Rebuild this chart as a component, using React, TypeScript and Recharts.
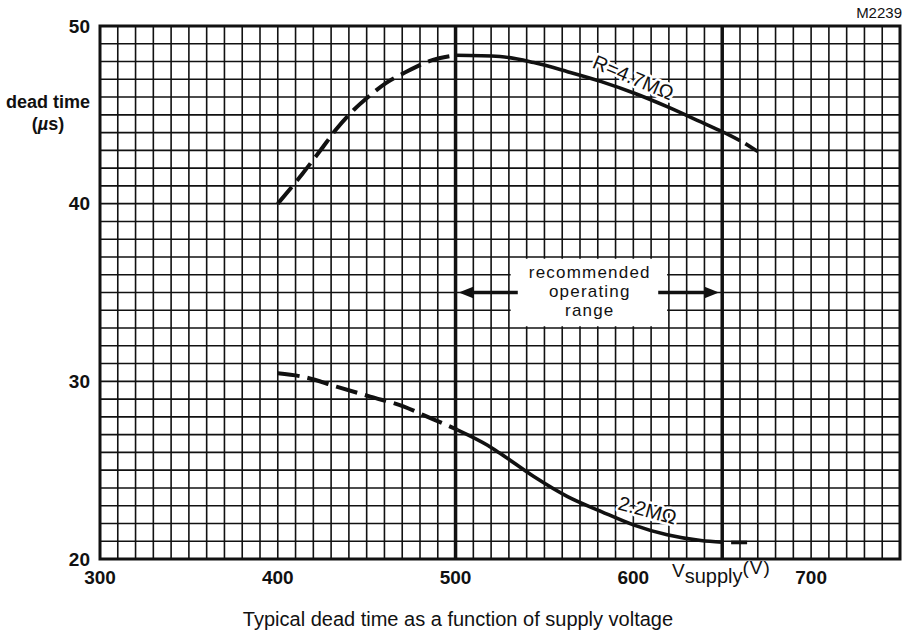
import React from 'react';
import {
  LineChart,
  Line,
  XAxis,
  YAxis,
  CartesianGrid,
  ReferenceLine,
  ReferenceArea,
  ReferenceDot,
} from 'recharts';

// grid: 10 V x 1 us squares
const gridX = Array.from({ length: 46 }, (_, i) => 300 + i * 10);
const gridY = Array.from({ length: 31 }, (_, i) => 20 + i);
const xLabels = [300, 400, 500, 600, 700];
const yLabels = [20, 30, 40, 50];

// R = 4.7 MOhm curve (V supply, dead time us)
const r47Dashed = [
  { x: 400, y: 40.0 },
  { x: 414, y: 41.7 },
  { x: 424, y: 43.0 },
  { x: 433, y: 44.2 },
  { x: 443, y: 45.3 },
  { x: 452, y: 46.1 },
  { x: 461, y: 46.8 },
  { x: 471, y: 47.35 },
  { x: 486, y: 48.05 },
  { x: 500, y: 48.35 },
];
const r47Solid = [
  { x: 500, y: 48.35 },
  { x: 525, y: 48.28 },
  { x: 544, y: 47.94 },
  { x: 563, y: 47.43 },
  { x: 582, y: 46.87 },
  { x: 601, y: 46.2 },
  { x: 619, y: 45.46 },
  { x: 638, y: 44.6 },
  { x: 650, y: 44.05 },
  { x: 660, y: 43.55 },
];
const r47Tail = [
  { x: 663, y: 43.38 },
  { x: 670, y: 42.93 },
];

// R = 2.2 MOhm curve
const r22Dashed = [
  { x: 400, y: 30.45 },
  { x: 414, y: 30.26 },
  { x: 433, y: 29.7 },
  { x: 452, y: 29.14 },
  { x: 471, y: 28.58 },
  { x: 482, y: 28.1 },
  { x: 497, y: 27.45 },
  { x: 501, y: 27.27 },
];
const r22Solid = [
  { x: 501, y: 27.27 },
  { x: 518, y: 26.4 },
  { x: 525, y: 25.95 },
  { x: 544, y: 24.64 },
  { x: 563, y: 23.51 },
  { x: 582, y: 22.67 },
  { x: 600, y: 21.92 },
  { x: 619, y: 21.36 },
  { x: 638, y: 21.04 },
  { x: 650, y: 20.95 },
];
const r22Tail = [
  { x: 655, y: 20.93 },
  { x: 664, y: 20.93 },
];

const rangeLimits = [500, 650];
const rangeLines = ['recommended', 'operating', 'range'];

const INK = '#111';
const FONT = '"Liberation Sans", Arial, Helvetica, sans-serif';

const YTick = (props: any) => {
  const { x, y, payload } = props;
  if (!yLabels.includes(payload.value)) return <g />;
  return (
    <text x={x} y={y} textAnchor="end" dominantBaseline="central" fontSize={19} fontWeight="bold" fill={INK} fontFamily={FONT}>
      {payload.value}
    </text>
  );
};

const XTick = (props: any) => {
  const { x, y, payload } = props;
  if (!xLabels.includes(payload.value)) return <g />;
  return (
    <text x={x} y={y + 18} textAnchor="middle" dominantBaseline="central" fontSize={19} fontWeight="bold" fill={INK} fontFamily={FONT}>
      {payload.value}
    </text>
  );
};

const Arrow = (p: any) => {
  const { x1, y1, x2, y2 } = p;
  const dir = x2 > x1 ? 1 : -1;
  const head = 15;
  return (
    <g>
      <line x1={x1} y1={y1} x2={x2 - dir * head} y2={y2} stroke={INK} strokeWidth={3.5} />
      <polygon points={`${x2},${y2} ${x2 - dir * head},${y2 - 6} ${x2 - dir * head},${y2 + 6}`} fill={INK} />
    </g>
  );
};

const curveLabel = (text: string, angle: number) => (p: any) => {
  const common = {
    x: p.cx,
    y: p.cy,
    transform: `rotate(${angle} ${p.cx} ${p.cy})`,
    textAnchor: 'middle' as const,
    dominantBaseline: 'central' as const,
    fontSize: 20,
    fontFamily: FONT,
  };
  return (
    <g>
      <text {...common} fill="#fff" stroke="#fff" strokeWidth={5} strokeLinejoin="round">
        {text}
      </text>
      <text {...common} fill={INK}>
        {text}
      </text>
    </g>
  );
};

const rangeText = (p: any) => (
  <g>
    {rangeLines.map((t, i) => (
      <text
        key={t}
        x={p.cx}
        y={p.cy + (i - 1) * 19}
        textAnchor="middle"
        dominantBaseline="central"
        fontSize={17}
        letterSpacing={1.2}
        fill={INK}
        fontFamily={FONT}
      >
        {t}
      </text>
    ))}
  </g>
);

const dash = '22 8';

const App: React.FC = () => {
  return (
    <div style={{ position: 'absolute', left: 0, top: 0, width: 911, height: 633, background: '#fff', fontFamily: FONT, color: INK }}>
      <LineChart width={911} height={633} margin={{ top: 26, right: 11, left: 0, bottom: 44 }}>
        <CartesianGrid stroke={INK} strokeWidth={1.6} />
        <XAxis
          dataKey="x"
          type="number"
          domain={[300, 750]}
          ticks={gridX}
          interval={0}
          allowDataOverflow
          axisLine={false}
          tickLine={false}
          tickSize={0}
          tickMargin={0}
          height={30}
          tick={<XTick />}
        />
        <YAxis
          dataKey="y"
          type="number"
          domain={[20, 50]}
          ticks={gridY}
          interval={0}
          allowDataOverflow
          axisLine={false}
          tickLine={false}
          tickSize={0}
          tickMargin={10}
          width={100}
          tick={<YTick />}
        />
        {rangeLimits.map((v) => (
          <ReferenceLine key={v} x={v} stroke={INK} strokeWidth={3.5} />
        ))}
        <ReferenceArea x1={300} x2={750} y1={20} y2={50} fill="none" stroke={INK} strokeWidth={3} />
        <ReferenceArea x1={531} x2={619} y1={33.1} y2={36.9} fill="#fff" fillOpacity={1} stroke="none" />
        <ReferenceLine segment={[{ x: 535, y: 35 }, { x: 501.8, y: 35 }]} shape={<Arrow />} />
        <ReferenceLine segment={[{ x: 614, y: 35 }, { x: 648.2, y: 35 }]} shape={<Arrow />} />
        <ReferenceDot x={575.5} y={35.05} r={0} shape={rangeText} />

        <ReferenceDot x={600} y={47.1} r={0} shape={curveLabel('R=4.7MΩ', 23)} />
        <ReferenceDot x={608} y={22.75} r={0} shape={curveLabel('2.2MΩ', 15)} />

        <Line data={r47Dashed} dataKey="y" type="monotone" stroke={INK} strokeWidth={4} strokeDasharray={dash} dot={false} isAnimationActive={false} />
        <Line data={r47Solid} dataKey="y" type="monotone" stroke={INK} strokeWidth={3.6} dot={false} isAnimationActive={false} />
        <Line data={r47Tail} dataKey="y" type="linear" stroke={INK} strokeWidth={3.6} dot={false} isAnimationActive={false} />
        <Line data={r22Dashed} dataKey="y" type="monotone" stroke={INK} strokeWidth={4} strokeDasharray={dash} dot={false} isAnimationActive={false} />
        <Line data={r22Solid} dataKey="y" type="monotone" stroke={INK} strokeWidth={3.6} dot={false} isAnimationActive={false} />
        <Line data={r22Tail} dataKey="y" type="linear" stroke={INK} strokeWidth={3.6} dot={false} isAnimationActive={false} />
      </LineChart>

      <div style={{ position: 'absolute', left: 0, width: 96, top: 91, textAlign: 'center', fontSize: 18, fontWeight: 'bold', lineHeight: '22px' }}>
        dead time
        <br />
        (<i>µ</i>s)
      </div>
      <div style={{ position: 'absolute', left: 672, top: 559, fontSize: 19, lineHeight: '22px', whiteSpace: 'nowrap' }}>
        V<span style={{ fontSize: 20, position: 'relative', top: 6 }}>supply</span>
        <span style={{ fontSize: 19, position: 'relative', top: -3, letterSpacing: 1 }}>(V)</span>
      </div>
      <div style={{ position: 'absolute', left: 0, width: 916, top: 608, textAlign: 'center', fontSize: 20 }}>
        Typical dead time as a function of supply voltage
      </div>
      <div style={{ position: 'absolute', right: 9, top: 4, fontSize: 15 }}>M2239</div>
    </div>
  );
};

export default App;
